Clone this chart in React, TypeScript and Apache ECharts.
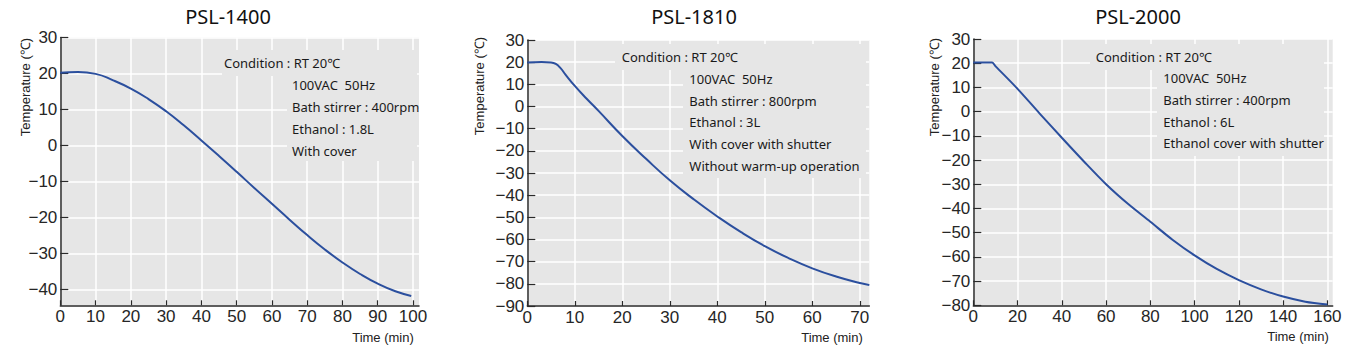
import React, { useEffect, useRef } from 'react';
import * as echarts from 'echarts';

const TITLES = ['PSL-1400', 'PSL-1810', 'PSL-2000'];

const T1 = [0, 5, 10, 15, 20, 25, 30, 35, 40, 45, 50, 55, 60, 65, 70, 75, 80, 85, 90, 95, 99.5];
const V1 = [20.2, 20.4, 19.9, 18.1, 15.8, 12.9, 9.5, 5.6, 1.4, -2.9, -7.3, -11.8, -16.2, -20.6, -24.9, -28.9, -32.5, -35.7, -38.4, -40.5, -41.8];

const T2 = [0, 3, 5, 6, 7, 8, 10, 12.5, 15, 20, 25, 30, 35, 40, 45, 50, 55, 60, 65, 70, 72];
const V2 = [19.8, 20.1, 19.9, 19.2, 17.3, 14.5, 9.3, 3.5, -2.0, -13.3, -23.6, -33.3, -41.8, -49.6, -56.7, -63.0, -68.4, -73.0, -76.7, -79.6, -80.5];

const T3 = [0, 8.5, 10, 20, 30, 40, 50, 60, 70, 80, 90, 100, 110, 120, 130, 140, 150, 160];
const V3 = [20.3, 20.3, 18.8, 9.4, -0.8, -10.8, -20.6, -30.0, -38.2, -45.5, -52.9, -59.4, -65.0, -69.6, -73.4, -76.4, -78.5, -79.7];

const X_TICKS_1 = [0, 10, 20, 30, 40, 50, 60, 70, 80, 90, 100];
const Y_TICKS_1 = [-40, -30, -20, -10, 0, 10, 20, 30];
const X_TICKS_2 = [0, 10, 20, 30, 40, 50, 60, 70];
const Y_TICKS_2 = [-90, -80, -70, -60, -50, -40, -30, -20, -10, 0, 10, 20, 30];
const X_TICKS_3 = [0, 20, 40, 60, 80, 100, 120, 140, 160];
const Y_TICKS_3 = [-80, -70, -60, -50, -40, -30, -20, -10, 0, 10, 20, 30];

const COND_1 = ['Condition : RT 20℃', '100VAC  50Hz', 'Bath stirrer : 400rpm', 'Ethanol : 1.8L', 'With cover'];
const COND_2 = ['Condition : RT 20℃', '100VAC  50Hz', 'Bath stirrer : 800rpm', 'Ethanol : 3L', 'With cover with shutter', 'Without warm-up operation'];
const COND_3 = ['Condition : RT 20℃', '100VAC  50Hz', 'Bath stirrer : 400rpm', 'Ethanol : 6L', 'Ethanol cover with shutter'];

const Y_NAME = 'Temperature (℃)';
const X_NAME = 'Time (min)';

const panels = [
  {
    grid: { left: 60.3, top: 37.5, width: 358.7, height: 267.8 },
    xMax: 101.7, xStep: 10, yMin: -44.4, yMax: 30,
    xTicks: X_TICKS_1, yTicks: Y_TICKS_1, t: T1, v: V1, smooth: 0.5,
    title: { x: 228, y: 16 }, yName: { x: 25, y: 87 }, xName: { x: 383, y: 337 },
    cond: COND_1, condX: 224, indentX: 292, condY: 63.3, lineH: 21.8,
    boxA: [222, 50, 195, 26], boxB: [287, 50, 130, 111],
  },
  {
    grid: { left: 527.3, top: 40, width: 342, height: 266 },
    xMax: 72, xStep: 10, yMin: -90, yMax: 30,
    xTicks: X_TICKS_2, yTicks: Y_TICKS_2, t: T2, v: V2, smooth: 0.5,
    title: { x: 694, y: 16 }, yName: { x: 479, y: 86 }, xName: { x: 832, y: 337 },
    cond: COND_2, condX: 621.7, indentX: 689.3, condY: 57.3, lineH: 21.7,
    boxA: [615, 44, 251, 26], boxB: [683, 44, 183, 134],
  },
  {
    grid: { left: 973.3, top: 39, width: 359.4, height: 266.3 },
    xMax: 162.4, xStep: 20, yMin: -80, yMax: 30,
    xTicks: X_TICKS_3, yTicks: Y_TICKS_3, t: T3, v: V3, smooth: 0.3,
    title: { x: 1138, y: 16 }, yName: { x: 934, y: 87 }, xName: { x: 1298, y: 336 },
    cond: COND_3, condX: 1095.7, indentX: 1163.3, condY: 56.7, lineH: 21.65,
    boxA: [1090, 44, 234, 26], boxB: [1157, 44, 167, 112],
  },
];

const fmt = (v: number) => String(v).replace('-', '\u2212');

export default function App() {
  const ref = useRef<HTMLDivElement>(null);
  useEffect(() => {
    const chart = echarts.init(ref.current!, null, { renderer: 'svg' });
    const axisColor = '#2a2a2a';
    const labelStyle = { fontSize: 17, fontFamily: 'Liberation Sans, Arial, sans-serif', color: '#262626' };
    const graphic: any[] = [];
    panels.forEach((p, i) => {
      graphic.push({
        type: 'rect', shape: { x: p.boxA[0], y: p.boxA[1], width: p.boxA[2], height: p.boxA[3] },
        style: { fill: '#e6e6e6' }, z: 5,
      });
      graphic.push({
        type: 'rect', shape: { x: p.boxB[0], y: p.boxB[1], width: p.boxB[2], height: p.boxB[3] },
        style: { fill: '#e6e6e6' }, z: 5,
      });
      graphic.push({
        type: 'text', x: p.title.x, y: p.title.y, z: 10,
        style: { text: TITLES[i], fontSize: 20, fontFamily: 'Noto Sans, Open Sans, sans-serif', fill: '#111', align: 'center', verticalAlign: 'middle' },
      });
      graphic.push({
        type: 'text', x: p.yName.x, y: p.yName.y, rotation: Math.PI / 2, z: 10,
        style: { text: Y_NAME, fontSize: 13, fontFamily: 'Liberation Sans, Arial, sans-serif', fill: '#222', align: 'center', verticalAlign: 'middle' },
      });
      graphic.push({
        type: 'text', x: p.xName.x, y: p.xName.y, z: 10,
        style: { text: X_NAME, fontSize: 13, fontFamily: 'Liberation Sans, Arial, sans-serif', fill: '#222', align: 'center', verticalAlign: 'middle' },
      });
      p.cond.forEach((line, k) => {
        graphic.push({
          type: 'text', x: k === 0 ? p.condX : p.indentX, y: p.condY + k * p.lineH, z: 10,
          style: { text: line, fontSize: 13, fontFamily: 'Noto Sans, Open Sans, sans-serif', fill: '#1a1a1a', align: 'left', verticalAlign: 'middle' },
        });
      });
    });

    const option: any = {
      animation: false,
      grid: panels.map((p) => ({ ...p.grid, show: true, backgroundColor: '#e6e6e6', borderWidth: 0, containLabel: false })),
      xAxis: panels.map((p, i) => ({
        gridIndex: i, type: 'value', min: 0, max: p.xMax, minInterval: p.xStep, maxInterval: p.xStep,
        axisLine: { show: true, onZero: false, lineStyle: { color: axisColor, width: 1.5 } },
        axisTick: { show: true, inside: true, length: 5, customValues: p.xTicks, lineStyle: { color: axisColor, width: 1.2 } },
        axisLabel: { customValues: p.xTicks, margin: 3, ...labelStyle, formatter: fmt },
        splitLine: { show: true, lineStyle: { color: '#ffffff', width: 1.5 } },
      })),
      yAxis: panels.map((p, i) => ({
        gridIndex: i, type: 'value', min: p.yMin, max: p.yMax, minInterval: 10, maxInterval: 10,
        axisLine: { show: true, onZero: false, lineStyle: { color: axisColor, width: 1.5 } },
        axisTick: { show: true, inside: true, length: 8, customValues: p.yTicks, lineStyle: { color: axisColor, width: 1.2 } },
        axisLabel: { customValues: p.yTicks, margin: 3, ...labelStyle, formatter: fmt },
        splitLine: { show: true, lineStyle: { color: '#ffffff', width: 1.5 } },
      })),
      series: panels.map((p, i) => ({
        type: 'line', xAxisIndex: i, yAxisIndex: i, showSymbol: false, symbol: 'none',
        smooth: p.smooth, data: p.t.map((t, k) => [t, p.v[k]]),
        lineStyle: { color: '#2b4f9e', width: 2 }, z: 3,
      })),
      graphic,
    };
    chart.setOption(option);
    return () => chart.dispose();
  }, []);
  return <div ref={ref} style={{ position: 'absolute', left: 0, top: 0, width: 1350, height: 351 }} />;
}
